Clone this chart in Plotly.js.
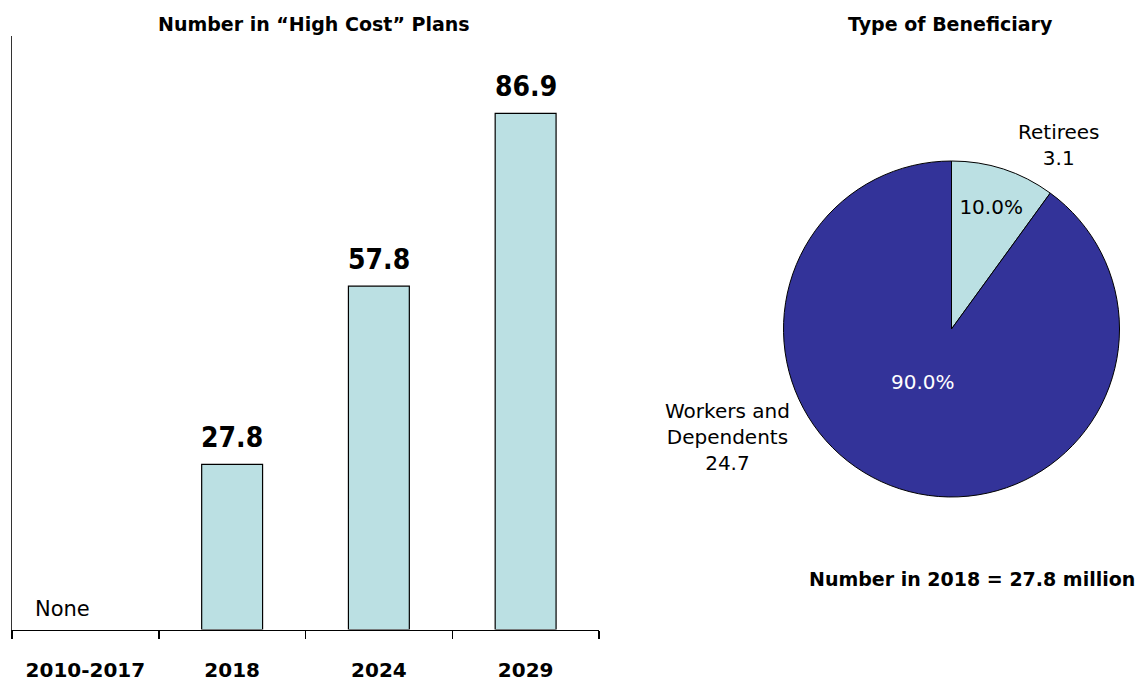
<!DOCTYPE html>
<html>
<head>
<meta charset="utf-8">
<script src="https://cdn.plot.ly/plotly-3.0.1.min.js"></script>
<style>
html,body{margin:0;padding:0;background:#fff;}
#chart{width:1141px;height:683px;}
</style>
</head>
<body>
<div id="chart"></div>
<script>
// ---- Data ----
const barCategories = ["2010-2017", "2018", "2024", "2029"];
const barValues = [0, 27.8, 57.8, 86.9];
const barLabels = ["None", "27.8", "57.8", "86.9"];

const pieLabels = ["Retirees", "Workers and<br>Dependents"];
const pieShares = [10.0, 90.0];
const pieCounts = [3.1, 24.7];

const barTitle = "Number in “High Cost” Plans";
const pieTitle = "Type of Beneficiary";
const pieNote = "Number in 2018 = 27.8 million";

// ---- Styles ----
const W = 1141, H = 683;
const px = v => v / W;
const py = v => (H - v) / H;
const lightBlue = "#BBE0E3";
const darkBlue = "#333399";
const FONT = "DejaVu Sans, Verdana, sans-serif";
const FONT_COND = "DejaVu Sans Condensed, DejaVu Sans, sans-serif";

const barTrace = {
  type: "bar",
  x: barCategories,
  y: barValues,
  marker: {
    color: lightBlue,
    line: { color: "#000", width: barValues.map(v => (v > 0 ? 1.2 : 0)) }
  },
  width: 0.415,
  hoverinfo: "skip",
  xaxis: "x", yaxis: "y",
  showlegend: false
};

const pieTrace = {
  type: "pie",
  labels: pieLabels,
  values: pieShares,
  sort: false,
  direction: "clockwise",
  rotation: 0,
  marker: { colors: [lightBlue, darkBlue], line: { color: "#000", width: 1 } },
  texttemplate: "%{value:.1f}%",
  textposition: ["inside", "none"],
  insidetextorientation: "horizontal",
  insidetextfont: { family: FONT, size: 20, color: ["#000", "#fff"] },
  hoverinfo: "skip",
  showlegend: false,
  domain: { x: [px(783.5), px(1119.5)], y: [py(497), py(161)] }
};

const annotations = [];
// Bar value labels (x given as category index)
barCategories.forEach((c, i) => {
  if (barValues[i] > 0) {
    annotations.push({
      xref: "x", yref: "y", x: i, y: barValues[i],
      text: barLabels[i], showarrow: false,
      yanchor: "middle", yshift: 27,
      font: { family: FONT_COND, size: 28, color: "#000", weight: "bold" }
    });
  } else {
    annotations.push({
      xref: "x", yref: "y", x: i, y: barValues[i],
      text: barLabels[i], showarrow: false,
      yanchor: "middle", yshift: 21, xshift: -23,
      font: { family: FONT, size: 21, color: "#000" }
    });
  }
});
// Titles
annotations.push({
  xref: "paper", yref: "paper", x: px(314), y: py(24),
  text: "<b>" + barTitle + "</b>", showarrow: false,
  xanchor: "center", yanchor: "middle",
  font: { family: FONT, size: 19, color: "#000" }
});
annotations.push({
  xref: "paper", yref: "paper", x: px(950), y: py(24),
  text: "<b>" + pieTitle + "</b>", showarrow: false,
  xanchor: "center", yanchor: "middle",
  font: { family: FONT, size: 19, color: "#000" }
});
annotations.push({
  xref: "paper", yref: "paper", x: px(972), y: py(579),
  text: "<b>" + pieNote + "</b>", showarrow: false,
  xanchor: "center", yanchor: "middle",
  font: { family: FONT, size: 19, color: "#000" }
});
// Pie outside labels
annotations.push({
  xref: "paper", yref: "paper", x: px(1059), y: py(145),
  text: pieLabels[0] + "<br>" + pieCounts[0].toFixed(1), showarrow: false,
  xanchor: "center", yanchor: "middle", align: "center",
  font: { family: FONT, size: 20, color: "#000" }
});
annotations.push({
  xref: "paper", yref: "paper", x: px(727), y: py(437),
  text: pieLabels[1] + "<br>" + pieCounts[1].toFixed(1), showarrow: false,
  xanchor: "center", yanchor: "middle", align: "center",
  font: { family: FONT, size: 20, color: "#000" }
});
// Percent label for the large slice
annotations.push({
  xref: "paper", yref: "paper", x: px(923), y: py(382),
  text: pieShares[1].toFixed(1) + "%", showarrow: false,
  xanchor: "center", yanchor: "middle",
  font: { family: FONT, size: 20, color: "#fff" }
});

const layout = {
  width: W, height: H,
  margin: { l: 0, r: 0, t: 0, b: 0 },
  paper_bgcolor: "#fff", plot_bgcolor: "rgba(0,0,0,0)",
  showlegend: false,
  xaxis: {
    domain: [px(12), px(599)],
    type: "category",
    range: [-0.5, 3.5],
    showline: true, linecolor: "#000", linewidth: 1.5,
    ticks: "outside", tickson: "boundaries", ticklen: 8, tickwidth: 1.5, tickcolor: "#000",
    showgrid: false, zeroline: false,
    tickfont: { family: FONT, size: 20, color: "#000", weight: "bold" },
    ticklabelstandoff: 22,
    automargin: false, fixedrange: true
  },
  yaxis: {
    domain: [py(629.5), py(35.5)],
    range: [0, 100],
    showline: true, linecolor: "#333", linewidth: 1,
    ticks: "", showticklabels: false,
    showgrid: false, zeroline: false,
    automargin: false, fixedrange: true
  },
  annotations: annotations
};

Plotly.newPlot("chart", [barTrace, pieTrace], layout, { displayModeBar: false, staticPlot: true });
</script>
</body>
</html>
